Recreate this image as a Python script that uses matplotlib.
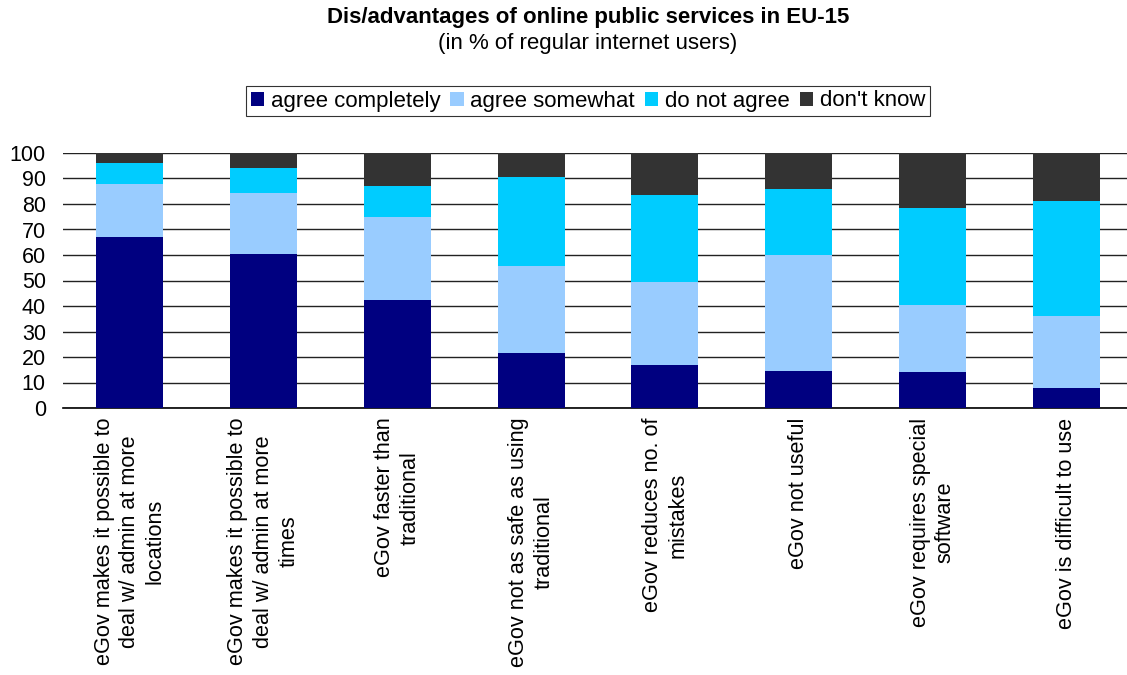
import matplotlib.pyplot as plt
import numpy as np

plt.rcParams['font.family'] = ['Liberation Sans', 'DejaVu Sans']

# statements (x axis)
categories = [
    'eGov makes it possible to\ndeal w/ admin at more\nlocations',
    'eGov makes it possible to\ndeal w/ admin at more\ntimes',
    'eGov faster than\ntraditional',
    'eGov not as safe as using\ntraditional',
    'eGov reduces no. of\nmistakes',
    'eGov not useful',
    'eGov requires special\nsoftware',
    'eGov is difficult to use',
]

# shares in % of regular internet users
agree_completely = [67, 60.5, 42.5, 21.5, 17, 14.5, 14, 8]
agree_somewhat = [21, 24, 32.5, 34, 32.5, 45.5, 26.5, 28]
do_not_agree = [8, 9.5, 12, 35, 34, 26, 38, 45]
dont_know = [4, 6, 13, 9.5, 16.5, 14, 21.5, 19]

series_names = ['agree completely', 'agree somewhat', 'do not agree', "don't know"]
colors = ['#000080', '#99CCFF', '#00CCFF', '#333333']

fig = plt.figure(figsize=(11.27, 6.75), dpi=100)
ax = fig.add_axes([62.5 / 1127, 267 / 675, 1071 / 1127, 255 / 675])

x = np.arange(len(categories))
bottom = np.zeros(len(categories))
for name, vals, c in zip(series_names,
                         [agree_completely, agree_somewhat, do_not_agree, dont_know],
                         colors):
    ax.bar(x, vals, width=0.5, bottom=bottom, color=c, label=name, zorder=3)
    bottom += np.array(vals)

ax.set_xlim(-0.5, len(categories) - 0.5)
ax.set_ylim(0, 100)
ax.set_yticks(range(0, 101, 10))
ax.yaxis.grid(True, color='#222222', linewidth=1.0, zorder=0)
ax.set_axisbelow(True)

for s in ['top', 'right', 'left']:
    ax.spines[s].set_visible(False)
ax.spines['bottom'].set_color('black')
ax.spines['bottom'].set_linewidth(1.2)

ax.set_xticks(x)
ax.set_xticklabels(categories, rotation=90, ha='center', va='top',
                   multialignment='center', fontsize=15.6, linespacing=1.27)
ax.tick_params(axis='x', length=0, pad=7)
ax.tick_params(axis='y', length=0, pad=12, labelsize=15.5)

cx = 588 / 1127
fig.text(cx, 1 - 18 / 675, 'Dis/advantages of online public services in EU-15',
         ha='center', va='center', fontsize=16, fontweight='bold')
fig.text(cx, 1 - 44 / 675, '(in % of regular internet users)',
         ha='center', va='center', fontsize=16)

leg = fig.legend(loc='center', bbox_to_anchor=(cx, 1 - 101 / 675), ncol=4,
                 fontsize=16, frameon=True, fancybox=False, edgecolor='black',
                 handlelength=0.6, handleheight=0.6, handletextpad=0.3,
                 columnspacing=0.45, borderpad=0.2, borderaxespad=0)
leg.get_frame().set_linewidth(0.8)

fig.savefig('out.png', dpi=100)
